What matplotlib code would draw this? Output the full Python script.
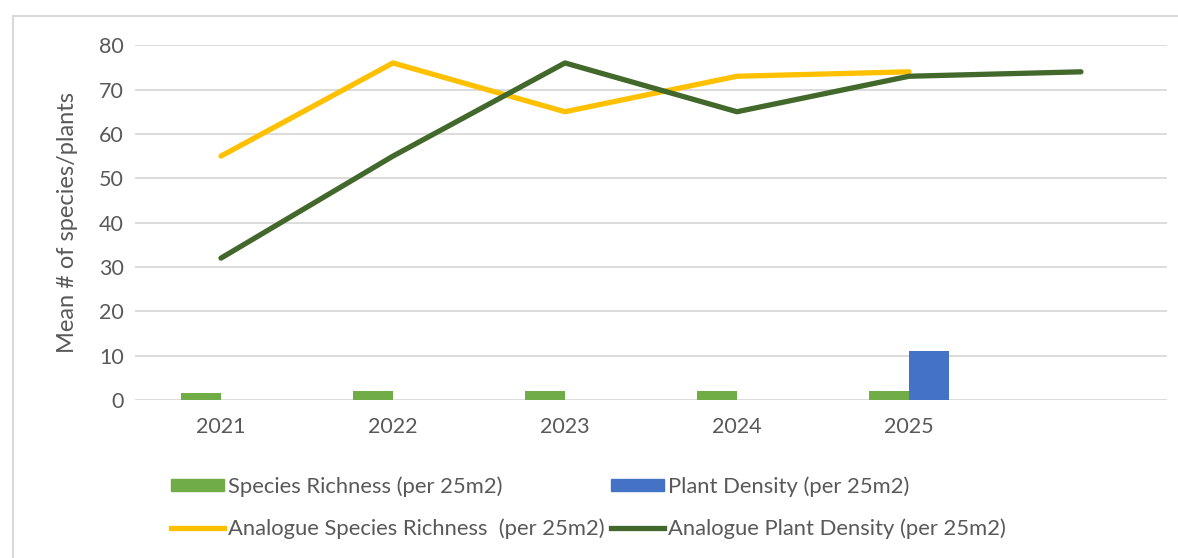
import numpy as np
import matplotlib.pyplot as plt
from matplotlib.lines import Line2D
from matplotlib.patches import Patch

plt.rcParams['font.family'] = ['Lato', 'DejaVu Sans']

years = ['2021', '2022', '2023', '2024', '2025', '']
species_richness = [1.6, 2.0, 2.0, 2.0, 2.0, np.nan]
plant_density = [np.nan, np.nan, np.nan, np.nan, 11.0, np.nan]
analogue_richness = [55, 76, 65, 73, 74, np.nan]
analogue_density = [32, 55, 76, 65, 73, 74]

c_green = '#70AD47'
c_blue = '#4472C4'
c_yellow = '#FFC000'
c_dark = '#43682B'
c_text = '#595959'

fig = plt.figure(figsize=(11.78, 5.58), dpi=100)
ax = fig.add_axes([0.1146, 0.283, 0.876, 0.636])

x = np.arange(len(years))
w = 0.233
ax.bar(x - w / 2, species_richness, w, color=c_green, zorder=2)
ax.bar(x + w / 2, plant_density, w, color=c_blue, zorder=2)
ax.plot(x, analogue_richness, color=c_yellow, lw=3.8, solid_capstyle='round', zorder=3)
ax.plot(x, analogue_density, color=c_dark, lw=3.8, solid_capstyle='round', zorder=4)

ax.set_xlim(-0.5, len(years) - 0.5)
ax.set_ylim(0, 80)
ax.set_yticks(range(0, 81, 10))
ax.set_xticks(x)
ax.set_xticklabels(years)
ax.yaxis.grid(True, color='#D9D9D9', lw=1.3, zorder=0)
ax.set_axisbelow(True)
for s in ax.spines.values():
    s.set_visible(False)
ax.tick_params(length=0, labelsize=15.5, labelcolor=c_text, pad=8)
ax.tick_params(axis='x', pad=12)
ax.set_ylabel('Mean # of species/plants', fontsize=17, color=c_text, labelpad=15)

handles = [
    Patch(color=c_green),
    Line2D([], [], color=c_yellow, lw=3.8),
    Patch(color=c_blue),
    Line2D([], [], color=c_dark, lw=3.8),
]
labels = [
    'Species Richness (per 25m2)',
    'Analogue Species Richness  (per 25m2)',
    'Plant Density (per 25m2)',
    'Analogue Plant Density (per 25m2)',
]
leg = fig.legend(handles, labels, ncol=2, loc='upper left', bbox_to_anchor=(0.1285, 0.182),
                 frameon=False, fontsize=15.8, labelcolor=c_text, handlelength=2.4,
                 handleheight=0.5, handletextpad=0.2, columnspacing=0.3, labelspacing=1.0)

# outer chart border (left and top only, the rest is cropped)
fig.add_artist(Line2D([0.011, 0.011], [0, 0.972], color='#D9D9D9', lw=1.5))
fig.add_artist(Line2D([0.011, 1.0], [0.972, 0.972], color='#D9D9D9', lw=1.5))

fig.savefig('out.png', dpi=100, facecolor='white')
